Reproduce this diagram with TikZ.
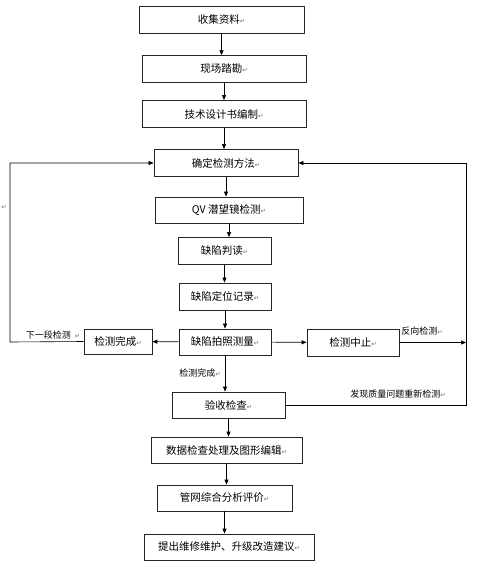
\documentclass[tikz,border=0pt]{standalone}
\usepackage{fontspec}
\setmainfont{Noto Sans CJK SC}
\newfontfamily\markfont{DejaVu Sans}
\usetikzlibrary{arrows.meta,positioning,calc}
\newcommand{\pmark}{{\markfont\fontsize{6.5}{6.5}\selectfont\textcolor{black!55}{↵}}}

\begin{document}
\begin{tikzpicture}[x=1pt, y=-1pt,
      font=\fontsize{10.5}{12}\selectfont,
      stepbox/.style={draw=black!85, line width=0.8pt, minimum height=27pt,
                      inner sep=0pt, align=center},
      lbl/.style={font=\fontsize{9}{10}\selectfont, inner sep=1pt},
      link/.style={->, line width=0.6pt},
      >={Triangle[length=5pt,width=4pt]}]

    \useasboundingbox (0,0) rectangle (481,564);

    % main column
    \node[stepbox, minimum width=165pt] (collect) at (221.5,19.5) {收集资料\pmark};
    \node[stepbox, minimum width=164pt] (survey) at (224,69) {现场踏勘\pmark};
    \node[stepbox, minimum width=164pt] (design) at (224,114) {技术设计书编制\pmark};
    \node[stepbox, minimum width=144pt] (method) at (226,163) {确定检测方法\pmark};
    \node[stepbox, minimum width=148pt, minimum height=26pt] (qv) at (229,210)
      {QV 潜望镜检测\pmark};
    \node[stepbox, minimum width=93pt] (judge) at (224.5,251) {缺陷判读\pmark};
    \node[stepbox, minimum width=92pt] (locate) at (225,296.5) {缺陷定位记录\pmark};
    \node[stepbox, minimum width=92pt, minimum height=26pt] (photo) at (225,342)
      {缺陷拍照测量\pmark};
    \node[stepbox, minimum width=113pt, minimum height=26pt] (accept) at (228.5,405)
      {验收检查\pmark};
    \node[stepbox, minimum width=151pt, minimum height=26pt] (data) at (226.5,450)
      {数据检查处理及图形编辑\pmark};
    \node[stepbox, minimum width=135pt, minimum height=26pt] (analyse) at (224.5,498)
      {管网综合分析评价\pmark};
    \node[stepbox, minimum width=170pt, minimum height=26pt] (advise) at (229,547)
      {提出维修维护、升级改造建议\pmark};

    % side boxes
    \node[stepbox, minimum width=68pt, minimum height=25pt] (done) at (118,341.5)
      {检测完成\pmark};
    \node[stepbox, minimum width=92pt] (stop) at (353,342.5) {检测中止\pmark};

    \coordinate (lcorner) at (10,342);
    \coordinate (rline) at (466,0);

    \foreach \a/\b in {collect/survey, survey/design, design/method, method/qv,
                       qv/judge, judge/locate, locate/photo, photo/accept,
                       accept/data, data/analyse, analyse/advise}
      \draw[link] (\a.south) -- (\a.south |- \b.north);

    \draw[link] (photo) -- (done);
    \draw[link] (photo) -- (stop);

    % return loops
    \draw[link] (done.west) -- (lcorner) |- (method.west);
    \draw[link] (stop.east) -- (stop.east -| rline);
    \draw[link] (accept.east) -- (accept.east -| rline) |- (method.east);

    \node[lbl] at (53,335.5) {下一段检测~~\pmark};
    \node[lbl] at (200,373) {检测完成\pmark};
    \node[lbl] at (422,331) {反向检测\pmark};
    \node[lbl] at (398,394) {发现质量问题重新检测\pmark};
    \node[lbl] at (4,207) {\pmark};
  \end{tikzpicture}
\end{document}
